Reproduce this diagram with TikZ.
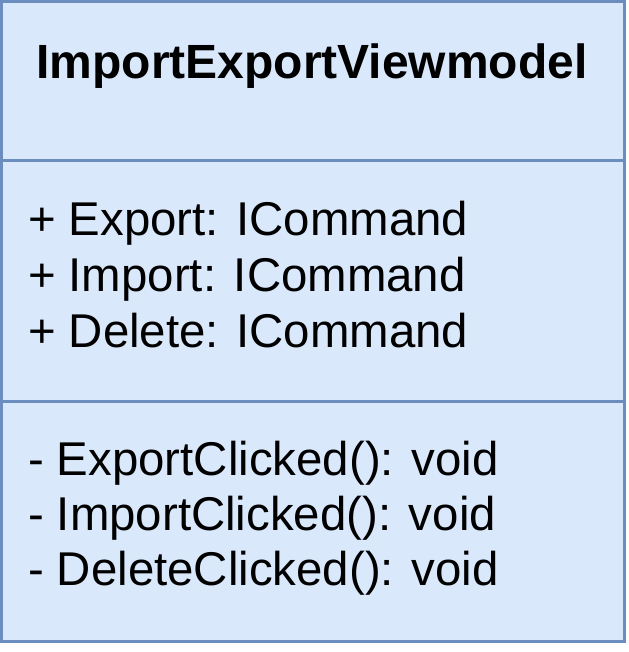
\documentclass[tikz,border=0pt]{standalone}
\usepackage{fontspec}
\setmainfont{Liberation Sans}
\definecolor{BoxFill}{HTML}{DAE8FC}
\definecolor{BoxLine}{HTML}{6C8EBF}

\begin{document}
\begin{tikzpicture}[
    x=1pt, y=-1pt,
    every node/.style={inner sep=0pt, outer sep=0pt, font=\fontsize{47.4}{56}\selectfont},
    klasse/.style={draw=BoxLine, fill=BoxFill, line width=3pt},
    trenner/.style={draw=BoxLine, line width=3pt},
    eintrag/.style={anchor=base west}
]
\useasboundingbox (0,0) rectangle (628,652);
\draw[klasse] (1.5,1.5) rectangle (624.5,641.5);
\draw[trenner] (1.5,161) -- (624.5,161);
\draw[trenner] (1.5,401) -- (624.5,401);
\node[anchor=base, font=\fontsize{48}{56}\bfseries] (titel) at (312,79) {ImportExportViewmodel};
\node[eintrag] (a1) at (28,235) {+ Export: ICommand};
\node[eintrag] (a2) at (28,291) {+ Import: ICommand};
\node[eintrag] (a3) at (28,347) {+ Delete: ICommand};
\node[eintrag] (m1) at (28,475) {- ExportClicked(): void};
\node[eintrag] (m2) at (28,530) {- ImportClicked(): void};
\node[eintrag] (m3) at (28,585) {- DeleteClicked(): void};
\end{tikzpicture}
\end{document}
